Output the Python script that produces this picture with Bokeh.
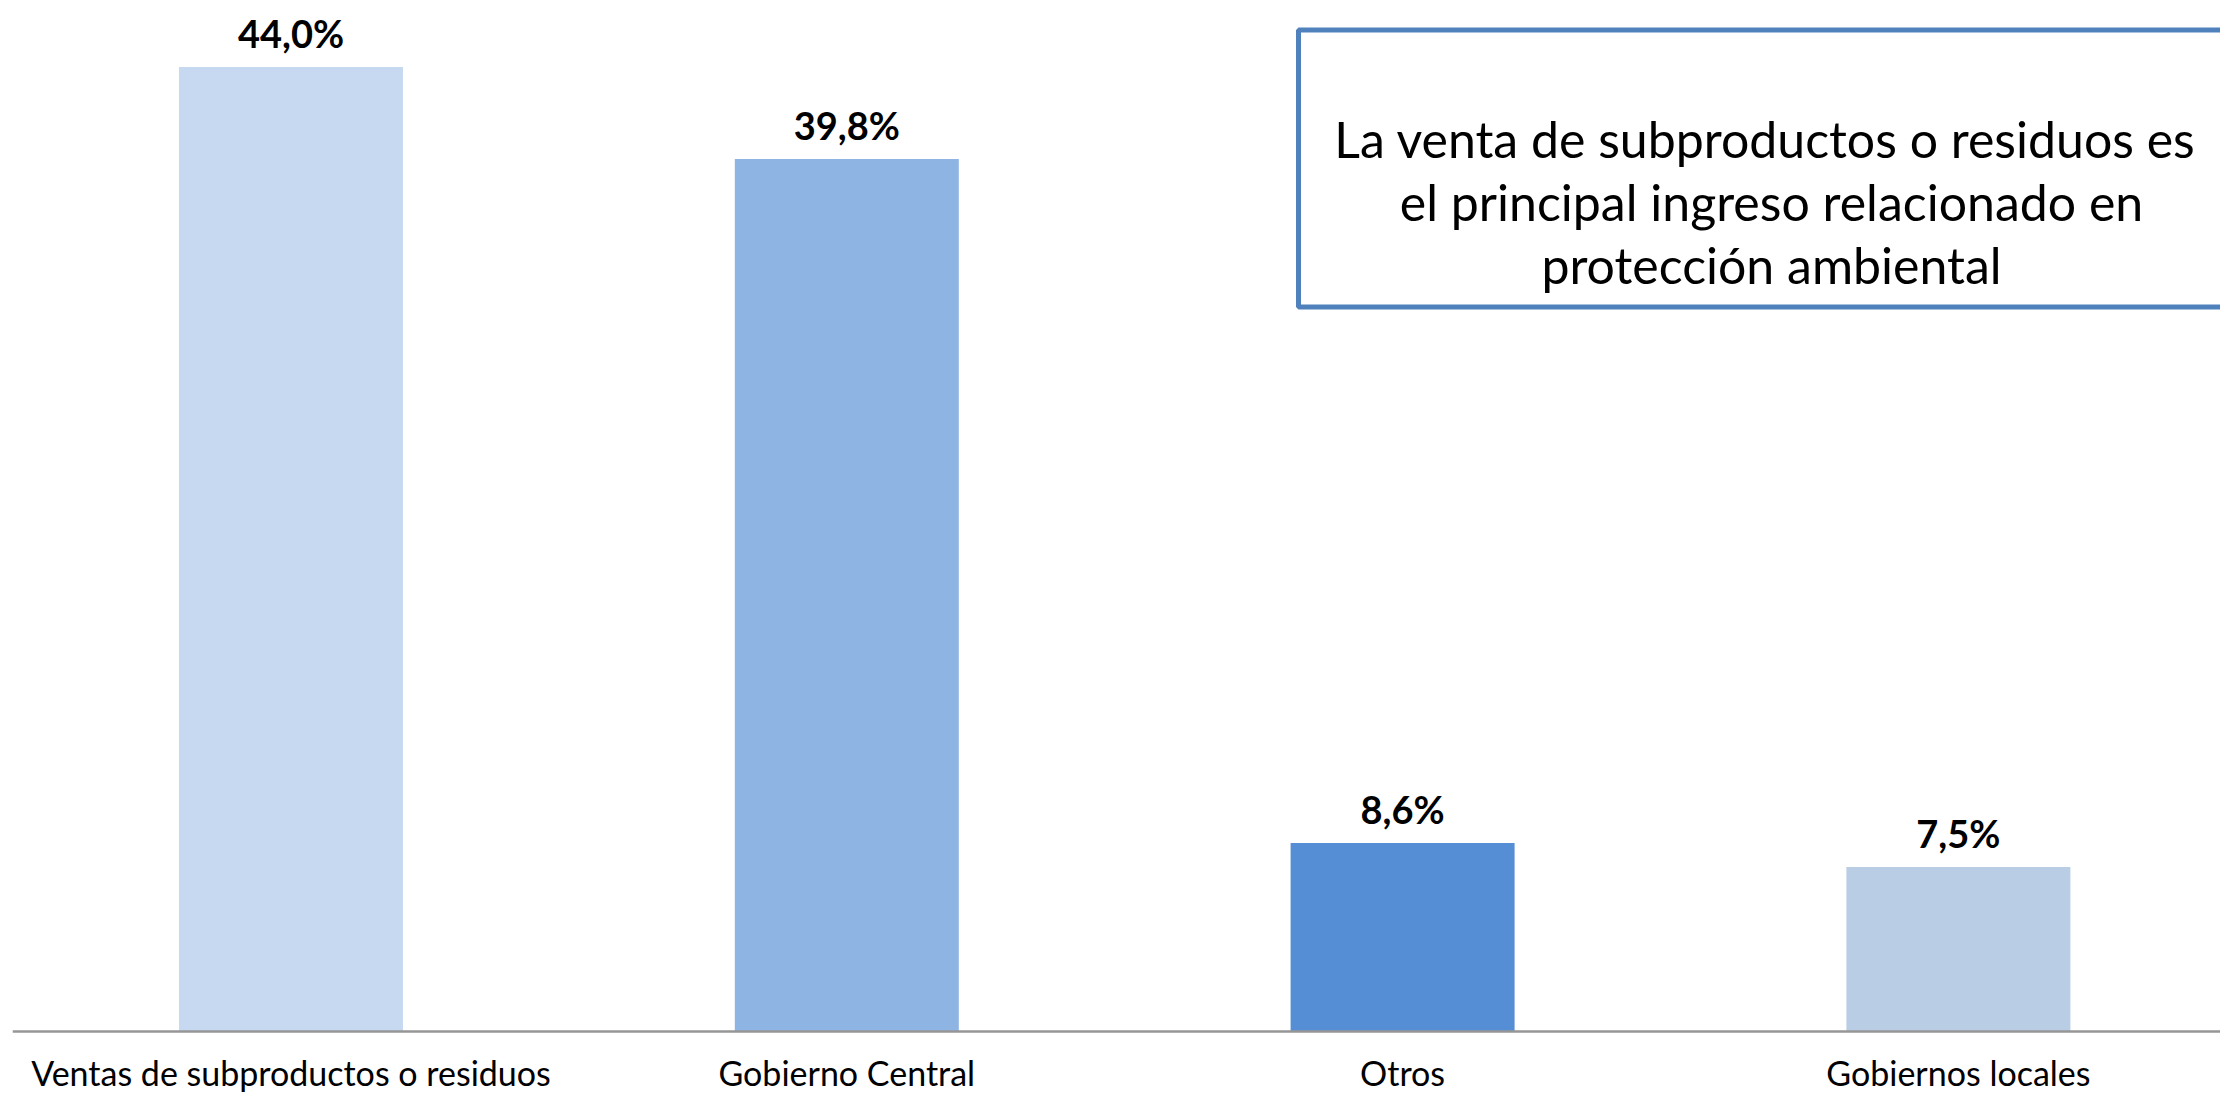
from bokeh.plotting import figure
from bokeh.models import ColumnDataSource, LabelSet, BoxAnnotation, Label, Span
from bokeh.core.properties import value
from bokeh.embed import file_html
from bokeh.resources import INLINE

# ---- data ----
categories = ["Ventas de subproductos o residuos", "Gobierno Central", "Otros", "Gobiernos locales"]
values = [44.0, 39.8, 8.6, 7.5]
value_labels = ["44,0%", "39,8%", "8,6%", "7,5%"]
colors = ["#C6D9F1", "#8EB4E3", "#558ED5", "#B9CDE5"]
note = "La  venta de subproductos o residuos es\nel principal ingreso relacionado en\nprotección ambiental"

# ---- layout (screen pixels, page has no margin) ----
W, H = 2220, 1094
FRAME_L = 12
AXIS_Y = 1031          # screen y of the baseline (value 0)
frame_w = W - FRAME_L
slot_px = 555.8
px_per_unit = 21.92
x_end = frame_w / slot_px
y_end = AXIS_Y / px_per_unit
y_start = -(H - AXIS_Y) / px_per_unit


def sx(screen_x):
    return (screen_x - FRAME_L) / slot_px


def sy(screen_y):
    return (AXIS_Y - screen_y) / px_per_unit


xs = [(290.5 - FRAME_L) / slot_px + i for i in range(len(categories))]
src = ColumnDataSource(dict(x=xs, top=values, cat=categories, lab=value_labels, color=colors))

p = figure(width=W, height=H, x_range=(0, x_end), y_range=(y_start, y_end),
           output_backend="svg", toolbar_location=None,
           x_axis_location=None, y_axis_location=None,
           min_border_left=FRAME_L, min_border_right=0, min_border_top=0,
           min_border_bottom=0)
p.outline_line_color = None
p.grid.visible = False
p.background_fill_color = "white"
p.border_fill_color = "white"

p.vbar(x="x", top="top", bottom=0, width=0.403, fill_color="color", line_color=None, source=src)

# category axis line (baseline at 0)
p.add_layout(Span(location=0, dimension="width", line_color="#969696", line_width=2.5))

# category labels under the baseline
p.add_layout(LabelSet(x="x", y=0, text="cat", y_offset=-54, source=src,
                      text_align="center", text_baseline="alphabetic",
                      text_font=value("Lato"), text_font_size="34px", text_color="black"))

# value labels
p.add_layout(LabelSet(x="x", y="top", text="lab", y_offset=34, source=src,
                      text_align="center", text_baseline="middle",
                      text_font=value("Lato"), text_font_style="bold",
                      text_font_size="38px", text_color="black"))

# note box
p.add_layout(BoxAnnotation(left=sx(1298), right=sx(2265), top=sy(29.5), bottom=sy(306.5),
                           fill_color=None, fill_alpha=0, line_color="#4F81BD",
                           line_alpha=1.0, line_width=5))

p.add_layout(Label(x=sx(1771), y=sy(201), text=note, text_align="center", text_baseline="middle",
                   text_font="Lato", text_font_size="50px", text_line_height=1.05,
                   text_color="black"))

open("out.html", "w").write(file_html(p, INLINE))
